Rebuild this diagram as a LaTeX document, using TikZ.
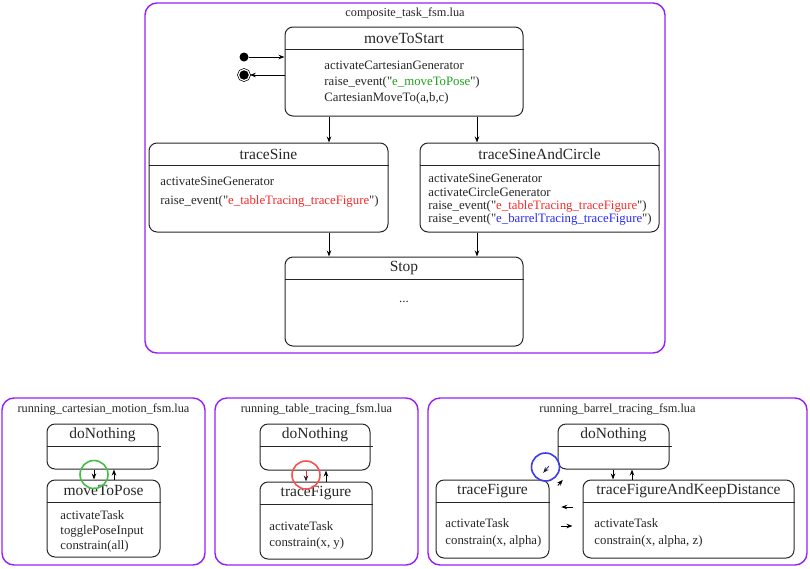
\documentclass[tikz,border=0pt]{standalone}
\usepackage{fontspec}
\setmainfont{Liberation Serif}[Ligatures=TeXOff]
\usepackage{tikz}
\usetikzlibrary{positioning,arrows.meta}
\definecolor{framepurple}{RGB}{150,30,250}
\definecolor{evgreen}{RGB}{30,160,30}
\definecolor{evred}{RGB}{250,40,40}
\definecolor{evblue}{RGB}{40,40,250}
\definecolor{ringgreen}{RGB}{70,190,70}
\definecolor{ringred}{RGB}{250,80,80}
\definecolor{ringblue}{RGB}{60,60,235}

\begin{document}
\begin{tikzpicture}[x=1pt,y=-1pt,>={Stealth[length=6pt,width=4.5pt]}]
\tikzset{frame/.style={draw=framepurple,line width=1.4pt,rounded corners=12pt,inner sep=0pt}}
\tikzset{frametitle/.style={font=\fontsize{12.3}{14}\selectfont,inner sep=0pt,text=black!85}}
\tikzset{state/.style={draw=black!85,line width=1pt,rounded corners=8pt,inner sep=0pt}}
\tikzset{statetitle/.style={font=\fontsize{15.5}{17}\selectfont,minimum height=22pt,inner sep=0pt,text=black!85}}
\tikzset{divider/.style={draw=black!85,line width=1pt}}
\tikzset{body/.style={font=\fontsize{12.8}{16}\selectfont,align=left,inner sep=0pt,anchor=west,text=black!85,yshift=-2pt}}
\tikzset{ring/.style={circle,draw,line width=1.6pt,minimum size=28pt,inner sep=0pt}}
\tikzset{initial/.style={circle,fill=black,minimum size=9pt,inner sep=0pt}}
\tikzset{final/.style={circle,fill=black,draw=black,line width=0.7pt,double=white,double distance=1.2pt,minimum size=11pt,inner sep=0pt}}
\tikzset{darktip/.style={-{Stealth[length=6pt,width=4.5pt,black!85]}}}
\tikzset{every path/.append style={line width=0.9pt}}
	\useasboundingbox (0,0) rectangle (810,568);
	% composite task
	\node[frame,minimum width=520pt,minimum height=350pt] (comp) at (405,178) {};
	\node[frametitle] (compT) at ([yshift=-11pt]comp.north) {composite\_task\_fsm.lua};
	\node[state,minimum width=238pt,minimum height=89pt] (mts) at (404,71.5) {};
	\node[statetitle,below=0pt of mts.north] (mtsT) {moveToStart};
		\path[divider] (mtsT.south -| mts.west) -- (mtsT.south -| mts.east);
	\node[body] (mtsB) at (324,81) {activateCartesianGenerator\\raise\_event("{\color{evgreen}e\_moveToPose}")\\CartesianMoveTo(a,b,c)};
	\node[initial] (init) at (244,57) {};
		\path[draw,->] (init) -- (init -| mts.west);
	\node[final] (fin) at (244,75) {};
		\path[draw,->] (fin -| mts.west) -- (fin);
	\node[state,minimum width=239pt,minimum height=89pt] (ts) at (268.5,187.5) {};
	\node[statetitle,below=0pt of ts.north] (tsT) {traceSine};
		\path[divider] (tsT.south -| ts.west) -- (tsT.south -| ts.east);
	\node[body] (tsB) at (160,190) {activateSineGenerator\\[3pt]raise\_event("{\color{evred}e\_tableTracing\_traceFigure}")};
	\node[state,minimum width=239pt,minimum height=89pt] (tsc) at (539.5,187.5) {};
	\node[statetitle,below=0pt of tsc.north] (tscT) {traceSineAndCircle};
		\path[divider] (tscT.south -| tsc.west) -- (tscT.south -| tsc.east);
	\node[body,font=\fontsize{12.8}{13.3}\selectfont] (tscB) at (428,198) {activateSineGenerator\\activateCircleGenerator\\raise\_event("{\color{evred}e\_tableTracing\_traceFigure}")\\raise\_event("{\color{evblue}e\_barrelTracing\_traceFigure}")};
	\node[state,minimum width=238pt,minimum height=89pt] (stop) at (404,301.5) {};
	\node[statetitle,below=0pt of stop.north] (stopT) {Stop};
		\path[divider] (stopT.south -| stop.west) -- (stopT.south -| stop.east);
	\node[body,anchor=center] (stopB) at (404,300) {...};
		\path[draw,->] ([xshift=-75pt]mts.south) -- ([xshift=-75pt]mts.south |- ts.north);
		\path[draw,->] ([xshift=73pt]mts.south) -- ([xshift=73pt]mts.south |- tsc.north);
		\path[draw,->] ([xshift=-75pt]stop.north |- ts.south) -- ([xshift=-75pt]stop.north);
		\path[draw,->] ([xshift=73pt]stop.north |- tsc.south) -- ([xshift=73pt]stop.north);
	% cartesian motion
	\node[frame,minimum width=203pt,minimum height=167pt] (cart) at (103.5,481.5) {};
	\node[frametitle] (cartT) at ([yshift=-12pt]cart.north) {running\_cartesian\_motion\_fsm.lua};
	\node[state,minimum width=111pt,minimum height=45pt] (dna) at (102.5,446.5) {};
	\node[statetitle,below=0pt of dna.north] (dnaT) {doNothing};
		\path[divider] (dnaT.south -| dna.west) -- ([xshift=2pt]dnaT.south -| dna.east);
	\node[state,minimum width=113pt,minimum height=77pt] (mtp) at (103.5,518.5) {};
	\node[statetitle,below=0pt of mtp.north] (mtpT) {moveToPose};
		\path[divider] (mtpT.south -| mtp.west) -- (mtpT.south -| mtp.east);
	\node[body,font=\fontsize{12.8}{15}\selectfont] (mtpB) at (60,529) {activateTask\\togglePoseInput\\constrain(all)};
		\path[draw,->] ([xshift=-8.5pt]dna.south) -- ([xshift=-8.5pt]dna.south |- mtp.north);
		\path[draw,->] ([xshift=11.5pt]dna.south |- mtp.north) -- ([xshift=11.5pt]dna.south);
	\node[ring,draw=ringgreen] (ringA) at (94,474.5) {};
	% table tracing
	\node[frame,minimum width=203pt,minimum height=167pt] (table) at (316.5,481.5) {};
	\node[frametitle] (tableT) at ([yshift=-12pt]table.north) {running\_table\_tracing\_fsm.lua};
	\node[state,minimum width=110pt,minimum height=46pt] (dnb) at (315,447) {};
	\node[statetitle,below=0pt of dnb.north] (dnbT) {doNothing};
		\path[divider] (dnbT.south -| dnb.west) -- ([xshift=2pt]dnbT.south -| dnb.east);
	\node[state,minimum width=112pt,minimum height=77pt] (tfb) at (316,520.5) {};
	\node[statetitle,below=0pt of tfb.north] (tfbT) {traceFigure};
		\path[divider] (tfbT.south -| tfb.west) -- (tfbT.south -| tfb.east);
	\node[body] (tfbB) at (269,533) {activateTask\\constrain(x, y)};
		\path[draw=evred,darktip] ([xshift=-9pt]dnb.south) -- ([xshift=-9pt]dnb.south |- tfb.north);
		\path[draw,->] ([xshift=11pt]dnb.south |- tfb.north) -- ([xshift=11pt]dnb.south);
	\node[ring,draw=ringred] (ringB) at (306,475) {};
	% barrel tracing
	\node[frame,minimum width=379pt,minimum height=167pt] (barrel) at (617.5,481.5) {};
	\node[frametitle] (barrelT) at ([yshift=-12pt]barrel.north) {running\_barrel\_tracing\_fsm.lua};
	\node[state,minimum width=111pt,minimum height=45pt] (dnc) at (613.5,446.5) {};
	\node[statetitle,below=0pt of dnc.north] (dncT) {doNothing};
		\path[divider] (dncT.south -| dnc.west) -- ([xshift=2pt]dncT.south -| dnc.east);
	\node[state,minimum width=113pt,minimum height=78pt] (tfc) at (492.5,519) {};
	\node[statetitle,below=0pt of tfc.north] (tfcT) {traceFigure};
		\path[divider] (tfcT.south -| tfc.west) -- (tfcT.south -| tfc.east);
	\node[body,font=\fontsize{12.8}{17}\selectfont] (tfcB) at (445,531) {activateTask\\constrain(x, alpha)};
	\node[state,minimum width=211pt,minimum height=78pt] (tfk) at (688.5,519) {};
	\node[statetitle,below=0pt of tfk.north] (tfkT) {traceFigureAndKeepDistance};
		\path[divider] (tfkT.south -| tfk.west) -- (tfkT.south -| tfk.east);
	\node[body,font=\fontsize{12.8}{17}\selectfont] (tfkB) at (594,531) {activateTask\\constrain(x, alpha, z)};
		\path[draw,->] ([xshift=-0.5pt]dnc.south) -- ([xshift=-0.5pt]dnc.south |- tfk.north);
		\path[draw,->] ([xshift=18.5pt]dnc.south |- tfk.north) -- ([xshift=18.5pt]dnc.south);
		\path[draw,->,shorten <=10pt,shorten >=11.7pt] ([yshift=12pt]tfk.west) -- ([yshift=12pt]tfk.west -| tfc.east);
		\path[draw,->,shorten <=11.7pt,shorten >=10pt] ([yshift=-7pt]tfk.west -| tfc.east) -- ([yshift=-7pt]tfk.west);
		\path[draw=evblue,darktip] ([shift={(-8.7,-3.3)}]dnc.south west) -- ([shift={(-6.3,-6.7)}]tfc.north east);
		\path[draw,->] ([shift={(8.3,6)}]tfc.north east) -- ([shift={(5.3,10.3)}]dnc.south west);
	\node[ring,draw=ringblue] (ringC) at (545.5,467) {};
\end{tikzpicture}
\end{document}
